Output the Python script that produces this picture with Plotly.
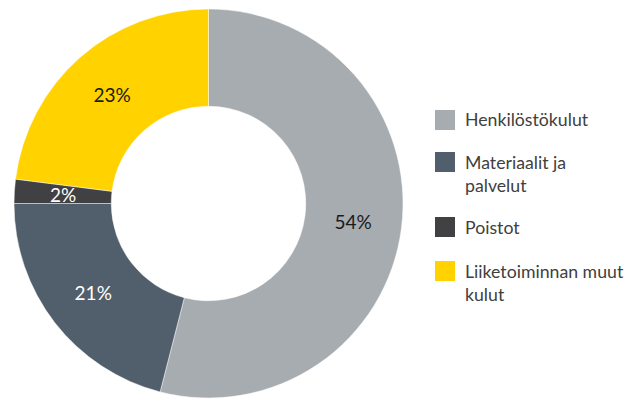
import math
import plotly.graph_objects as go

# Cost structure shares (%)
categories = ["Henkilöstökulut", "Materiaalit ja palvelut", "Poistot", "Liiketoiminnan muut kulut"]
legend_labels = ["Henkilöstökulut", "Materiaalit ja<br>palvelut", "Poistot", "Liiketoiminnan muut<br>kulut"]
shares = [54, 21, 2, 23]
colors = ["#A7ACB1", "#515E6B", "#414042", "#FFD200"]
text_colors = ["#1a1a1a", "#ffffff", "#ffffff", "#1a1a1a"]

W, H = 641, 398
FONT = "Lato"
HOLE = 0.5

# Donut geometry in pixels (domain below)
dom_x = [14, 403]
dom_y_top, dom_y_bottom = 9, 398
cx = (dom_x[0] + dom_x[1]) / 2
cy_pie = (dom_y_top + dom_y_bottom) / 2
radius = (dom_y_bottom - dom_y_top) / 2

# Thin slices get their label as an annotation so it is not shrunk
small = [s < 5 for s in shares]
positions = ["none" if sm else "inside" for sm in small]

fig = go.Figure()
fig.add_trace(go.Pie(
    labels=categories,
    values=shares,
    hole=HOLE,
    sort=False,
    direction="clockwise",
    rotation=0,
    marker=dict(colors=colors, line=dict(color="rgba(255,255,255,0.6)", width=0.8)),
    texttemplate="%{percent:.0%}",
    textposition=positions,
    insidetextorientation="horizontal",
    textfont=dict(family=FONT, size=19, color=text_colors),
    domain=dict(x=[dom_x[0] / W, dom_x[1] / W], y=[1 - dom_y_bottom / H, 1 - dom_y_top / H]),
    showlegend=False,
    hoverinfo="label+percent",
))

annotations = []
total = sum(shares)
cum = 0
for s, sm, tc in zip(shares, small, text_colors):
    mid = (cum + s / 2) / total * 2 * math.pi  # clockwise from 12 o'clock
    cum += s
    if not sm:
        continue
    r_mid = radius * (1 + HOLE) / 2
    px = cx + r_mid * math.sin(mid)
    py = cy_pie - r_mid * math.cos(mid)
    annotations.append(dict(
        x=px / W, y=1 - py / H, xref="paper", yref="paper",
        xanchor="center", yanchor="middle", showarrow=False,
        text=f"{round(s / total * 100)}%",
        font=dict(family=FONT, size=19, color=tc),
    ))

# Legend: colour squares with labels at the right
sq_centers = [120, 162, 227, 271]
shapes = []
for c, lbl, cy in zip(colors, legend_labels, sq_centers):
    shapes.append(dict(
        type="rect", xref="paper", yref="paper",
        x0=435 / W, x1=455 / W, y0=1 - (cy + 10) / H, y1=1 - (cy - 10) / H,
        fillcolor=c, line=dict(width=0),
    ))
    n_lines = lbl.count("<br>") + 1
    center = cy + (n_lines - 1) * 23.5 / 2
    annotations.append(dict(
        x=463 / W, y=1 - center / H, xref="paper", yref="paper",
        xanchor="left", yanchor="middle", align="left", showarrow=False,
        text=lbl, font=dict(family=FONT, size=17.7, color="#404040"),
    ))

fig.update_layout(
    width=W, height=H,
    margin=dict(l=0, r=0, t=0, b=0),
    paper_bgcolor="white", plot_bgcolor="white",
    shapes=shapes, annotations=annotations,
)

fig.write_html("out.html")
